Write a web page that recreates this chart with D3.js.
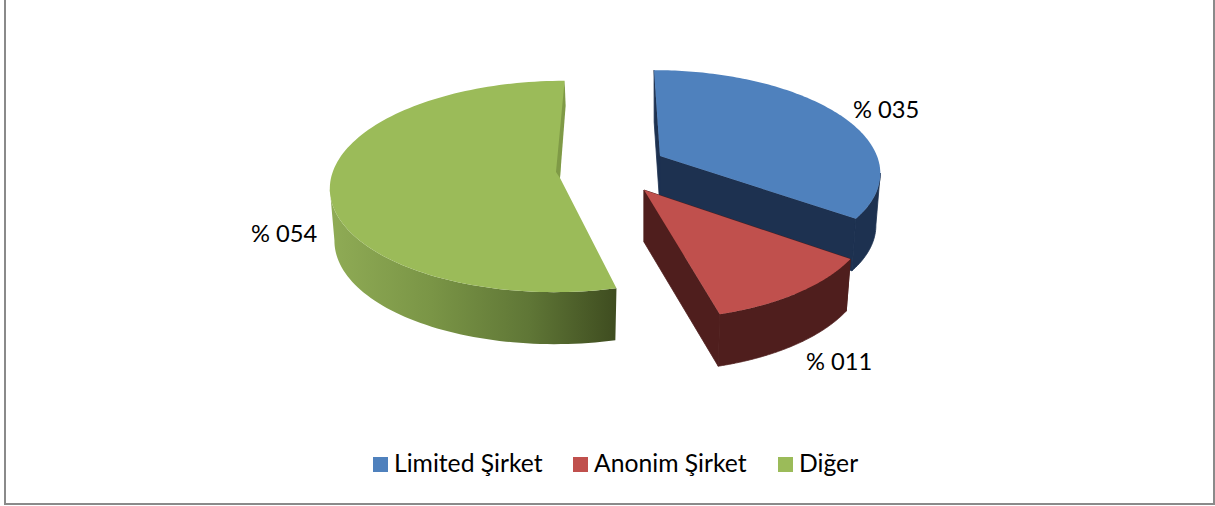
<!DOCTYPE html>
<html><head><meta charset="utf-8">
<script src="https://cdn.jsdelivr.net/npm/d3@7"></script>
<style>html,body{margin:0;padding:0;background:#fff}svg{display:block}text{font-family:Lato,"Open Sans",sans-serif;fill:#000}</style>
</head><body><svg id="c" width="1215" height="506"></svg>
<script>
const categories = ["Limited Şirket", "Anonim Şirket", "Diğer"];
const values = [35, 11, 54];
const colors = ["#4f81bd", "#c0504d", "#9bbb59"];
const wallColors = ["#1d3150", "#4f1e1d", "url(#greenWall)"];
const geometry = [
  {ax:660, ay:156, R:217, Ry:98,  k:0.1415, s:-6.8},
  {ax:644, ay:190, R:221, Ry:104, k:0.195,  s:-6.7},
  {ax:560, ay:178, R:229, Ry:105, k:0.08,   s:5}
];
const labelPos = [[853,118],[806,370],[251,242]];
const legendX = [373,573,778];
const depth = 52, bottomScale = 0.98;

const svg = d3.select("#c");
const W = 1215, H = 506;
svg.append("rect").attr("width",W).attr("height",H).attr("fill","#fff");
const defs = svg.append("defs");
const g = defs.append("linearGradient").attr("id","greenWall")
  .attr("gradientUnits","userSpaceOnUse").attr("x1",332).attr("x2",615).attr("y1",0).attr("y2",0);
[[0,"#8fab55"],[0.35,"#7a9546"],[0.7,"#5f7636"],[1,"#3f4d20"]].forEach(([o,c])=>
  g.append("stop").attr("offset",o).attr("stop-color",c));

svg.append("path").attr("d","M5,0V504H1214V0").attr("fill","none").attr("stroke","#8a8a8a").attr("stroke-width",2);

const arcs = d3.pie().sort(null).value(d=>d)(values);
function proj(G,a,r,bottom){
  const u=Math.sin(a)*r, v=Math.cos(a)*r, w=1+G.k*v, f=bottom?bottomScale:1;
  return [G.ax+f*(G.R*u+G.s*v)/w, G.ay+(bottom?depth:0)-G.Ry*v/w];
}
const line=d3.line();
const range=(a,b,n=120)=>d3.range(0,n+1).map(i=>a+(b-a)*i/n);
const layer=svg.append("g");
arcs.forEach((d,i)=>{
  const G=geometry[i], A=range(d.startAngle,d.endAngle);
  const gg=layer.append("g");
  const face=(a)=>[proj(G,a,0,false),proj(G,a,1,false),proj(G,a,1,true),proj(G,a,0,true)];
  if(i<2){
    [d.startAngle,d.endAngle].forEach(a=>
      gg.append("path").attr("d",line(face(a))+"Z").attr("fill",wallColors[i]).attr("stroke",wallColors[i]).attr("stroke-width",0.8));
  }
  // the outer wall only runs over the front of the rim, from the silhouette point onward
  const xs=A.map(a=>proj(G,a,1,false)[0]);
  let W2=A;
  if(i===0) W2=A.slice(xs.indexOf(d3.max(xs)));
  if(i===2) W2=A.slice(0,xs.indexOf(d3.min(xs))+1);
  const wall=W2.map(a=>proj(G,a,1,false)).concat(W2.slice().reverse().map(a=>proj(G,a,1,true)));
  gg.append("path").attr("d",line(wall)+"Z").attr("fill",wallColors[i]).attr("stroke",i<2?wallColors[i]:"none").attr("stroke-width",0.8);
  const top=[proj(G,0,0,false)].concat(A.map(a=>proj(G,a,1,false)));
  gg.append("path").attr("d",line(top)+"Z").attr("fill",colors[i]);
  if(i===2){
    const p=proj(G,d.endAngle,1,false), c=proj(G,0,0,false);
    gg.append("path").attr("d",line([p,[p[0]+1,p[1]+25],c,[c[0]-4,c[1]-6]])+"Z").attr("fill","#7f9a46");
  }
  svg.append("text").attr("x",labelPos[i][0]).attr("y",labelPos[i][1]).attr("font-size",23.7)
    .text("% "+d3.format("03d")(d.data));
});
const lg=svg.append("g");
categories.forEach((c,i)=>{
  lg.append("rect").attr("x",legendX[i]).attr("y",457).attr("width",15).attr("height",15).attr("fill",colors[i]);
  lg.append("text").attr("x",legendX[i]+21).attr("y",472).attr("font-size",24.7).text(c);
});
</script></body></html>
